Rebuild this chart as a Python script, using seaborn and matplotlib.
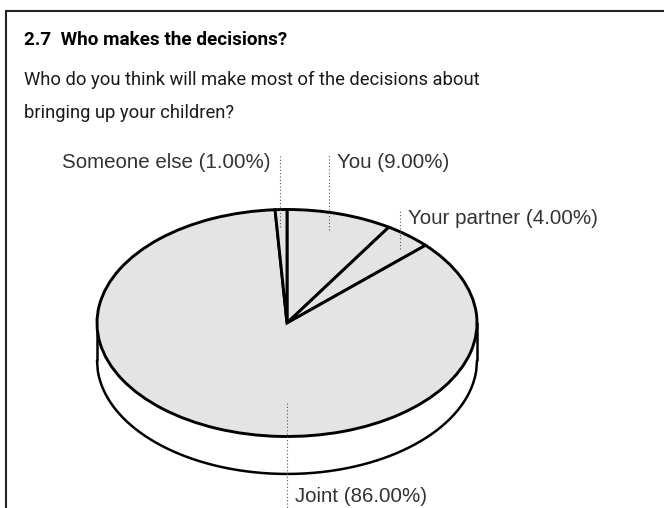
import numpy as np
import matplotlib
matplotlib.use("Agg")
import matplotlib.pyplot as plt
import seaborn as sns
from matplotlib.lines import Line2D

# Survey answers, clockwise from twelve o'clock
categories = ["You", "Your partner", "Joint", "Someone else"]
shares = [9.0, 4.0, 86.0, 1.0]
value_labels = ["9.00%", "4.00%", "86.00%", "1.00%"]

title = "2.7  Who makes the decisions?"
question = ["Who do you think will make most of the decisions about",
            "bringing up your children?"]

sns.set_theme(style="white")
plt.rcParams["font.family"] = ["Liberation Sans", "DejaVu Sans"]

W, H = 664, 508
fig = plt.figure(figsize=(W / 100, H / 100), dpi=100)
fig.patch.set_facecolor("white")
renderer = fig.canvas.get_renderer()


def fit_width(txt, target_px):
    """Scale a text's font size so it spans target_px pixels."""
    width = txt.get_window_extent(renderer).width
    txt.set_fontsize(txt.get_fontsize() * target_px / width)


# pie centre (pixels from top-left) and the squashed radii
cx, cy = 287, 323
rx, ry = 190, 113.5
depth = 0.33          # thickness of the disc, in vertical radius units

ax = fig.add_axes([0, 0, 1, 1])
wedges, _ = ax.pie(
    shares, startangle=90, counterclock=False,
    colors=["#e4e4e4"] * len(shares),
    wedgeprops=dict(edgecolor="black", linewidth=2.1, joinstyle="miter", zorder=3),
)
ax.set_aspect("auto")
ax.set_xlim(-cx / rx, (W - cx) / rx)
ax.set_ylim(-(H - cy) / ry, cy / ry)
ax.axis("off")

# visible rim of the disc
xs = np.linspace(-1, 1, 500)
rim_top = -np.sqrt(np.clip(1 - xs ** 2, 0, None))
ax.fill_between(xs, rim_top - depth, rim_top, color="white", zorder=1)
ax.plot(xs, rim_top - depth, color="black", lw=1.8, zorder=2)
for sx in (-1, 1):
    ax.plot([sx, sx], [0, -depth], color="black", lw=1.8, zorder=2)

# labels with dotted leaders
label_style = dict(fontsize=14.8, color="#333333")
leader_style = dict(color="#555555", lw=0.8, ls=(0, (1, 2)), zorder=4)
layout = {
    "You":          dict(side="right", y=1.41, r=0.79),
    "Your partner": dict(side="right", y=0.925, r=0.93),
    "Someone else": dict(side="left",  y=1.41, r=1.15),
}
gap = 8 / rx
for w, cat, vl in zip(wedges, categories, value_labels):
    text = f"{cat} ({vl})"
    mid = np.deg2rad((w.theta1 + w.theta2) / 2)
    if cat in layout:
        lx = layout[cat]["r"] * np.cos(mid)
        ly_end = 0.85 * np.sin(mid)
        ty = layout[cat]["y"]
        ax.plot([lx, lx], [ly_end, ty + 8 / ry], **leader_style)
        if layout[cat]["side"] == "right":
            ax.text(lx + gap, ty, text, ha="left", va="center", **label_style)
        else:
            ax.text(lx - gap * 1.25, ty, text, ha="right", va="center", **label_style)
    else:
        lx = 0.0
        ty = -(497 - cy) / ry
        ax.plot([lx, lx], [-(403 - cy) / ry, -(H - cy) / ry], **leader_style)
        ax.text(lx + gap, ty, text, ha="left", va="center", **label_style)

# heading and question
head = fig.text(24 / W, 1 - 45 / H, title, fontsize=13, fontweight="bold",
                family=["Roboto", "DejaVu Sans"],
                color="#000000", ha="left", va="baseline")
fit_width(head, 263)
body = []
for i, line in enumerate(question):
    body.append(fig.text(24 / W, 1 - (85 + 33 * i) / H, line, fontsize=14,
                         family=["Roboto", "DejaVu Sans"],
                         color="#1a1a1a", ha="left", va="baseline"))
fit_width(body[0], 459)
body[1].set_fontsize(body[0].get_fontsize())

# panel frame (top and left edges)
fig.add_artist(Line2D([5.5 / W, 1], [1 - 10.5 / H] * 2,
                      transform=fig.transFigure, color="#222222", lw=1.5))
fig.add_artist(Line2D([5.5 / W] * 2, [1 - 10.5 / H, 0],
                      transform=fig.transFigure, color="#222222", lw=1.5))

fig.savefig("out.png", dpi=100, facecolor="white")
